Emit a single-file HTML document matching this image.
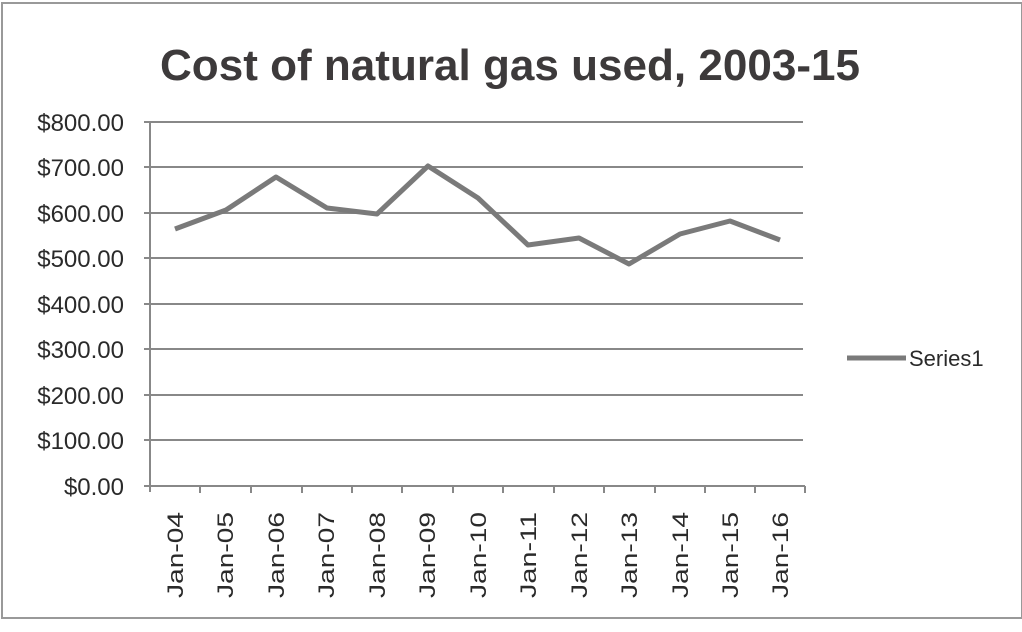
<!DOCTYPE html>
<html><head><style>
body{margin:0;background:#fff;}
svg{display:block}
</style></head><body>
<svg width="1022" height="632" xmlns="http://www.w3.org/2000/svg" font-family="'Liberation Sans',sans-serif">
<rect x="0" y="0" width="1022" height="632" fill="#fff"/>
<rect x="2" y="3" width="1020" height="615" fill="none" stroke="#999" stroke-width="2"/>
<text x="160" y="80" font-size="44" font-weight="bold" fill="#3d3a3b" textLength="700" lengthAdjust="spacingAndGlyphs">Cost of natural gas used, 2003-15</text>
<g stroke="#888" stroke-width="2">
<line x1="144" y1="122" x2="803" y2="122"/>
<line x1="144" y1="167" x2="803" y2="167"/>
<line x1="144" y1="213" x2="803" y2="213"/>
<line x1="144" y1="258" x2="803" y2="258"/>
<line x1="144" y1="304" x2="803" y2="304"/>
<line x1="144" y1="349" x2="803" y2="349"/>
<line x1="144" y1="395" x2="803" y2="395"/>
<line x1="144" y1="440" x2="803" y2="440"/>
<line x1="144" y1="486" x2="805" y2="486"/>
<line x1="150" y1="122" x2="150" y2="492"/>
<line x1="200" y1="486" x2="200" y2="493"/><line x1="251" y1="486" x2="251" y2="493"/><line x1="302" y1="486" x2="302" y2="493"/><line x1="352" y1="486" x2="352" y2="493"/><line x1="402" y1="486" x2="402" y2="493"/><line x1="453" y1="486" x2="453" y2="493"/><line x1="503" y1="486" x2="503" y2="493"/><line x1="554" y1="486" x2="554" y2="493"/><line x1="604" y1="486" x2="604" y2="493"/><line x1="655" y1="486" x2="655" y2="493"/><line x1="705" y1="486" x2="705" y2="493"/><line x1="755" y1="486" x2="755" y2="493"/><line x1="805" y1="486" x2="805" y2="493"/>
</g>
<g font-size="24" fill="#2a2a2a" text-anchor="end">
<text x="124" y="131">$800.00</text><text x="124" y="176">$700.00</text><text x="124" y="222">$600.00</text><text x="124" y="267">$500.00</text><text x="124" y="313">$400.00</text><text x="124" y="358">$300.00</text><text x="124" y="404">$200.00</text><text x="124" y="449">$100.00</text><text x="124" y="495">$0.00</text>
</g>
<polyline fill="none" stroke="#7a7a7a" stroke-width="5" stroke-linejoin="round" points="175,229 226,210 276,177 327,208 377,214 428,166 478,198 528,245 579,238 629,264 680,234 730,221 780,240"/>
<g font-size="22" fill="#2a2a2a" text-anchor="middle">
<text transform="translate(183,555) rotate(-90)" textLength="86" lengthAdjust="spacingAndGlyphs">Jan-04</text>
<text transform="translate(233,555) rotate(-90)" textLength="86" lengthAdjust="spacingAndGlyphs">Jan-05</text>
<text transform="translate(284,555) rotate(-90)" textLength="86" lengthAdjust="spacingAndGlyphs">Jan-06</text>
<text transform="translate(334,555) rotate(-90)" textLength="86" lengthAdjust="spacingAndGlyphs">Jan-07</text>
<text transform="translate(385,555) rotate(-90)" textLength="86" lengthAdjust="spacingAndGlyphs">Jan-08</text>
<text transform="translate(435,555) rotate(-90)" textLength="86" lengthAdjust="spacingAndGlyphs">Jan-09</text>
<text transform="translate(486,555) rotate(-90)" textLength="86" lengthAdjust="spacingAndGlyphs">Jan-10</text>
<text transform="translate(536,555) rotate(-90)" textLength="86" lengthAdjust="spacingAndGlyphs">Jan-11</text>
<text transform="translate(587,555) rotate(-90)" textLength="86" lengthAdjust="spacingAndGlyphs">Jan-12</text>
<text transform="translate(637,555) rotate(-90)" textLength="86" lengthAdjust="spacingAndGlyphs">Jan-13</text>
<text transform="translate(688,555) rotate(-90)" textLength="86" lengthAdjust="spacingAndGlyphs">Jan-14</text>
<text transform="translate(738,555) rotate(-90)" textLength="86" lengthAdjust="spacingAndGlyphs">Jan-15</text>
<text transform="translate(788,555) rotate(-90)" textLength="86" lengthAdjust="spacingAndGlyphs">Jan-16</text>
</g>
<line x1="847" y1="358" x2="906" y2="358" stroke="#7a7a7a" stroke-width="5"/>
<text x="909" y="366" font-size="22" fill="#2a2a2a">Series1</text>
</svg>
</body></html>
